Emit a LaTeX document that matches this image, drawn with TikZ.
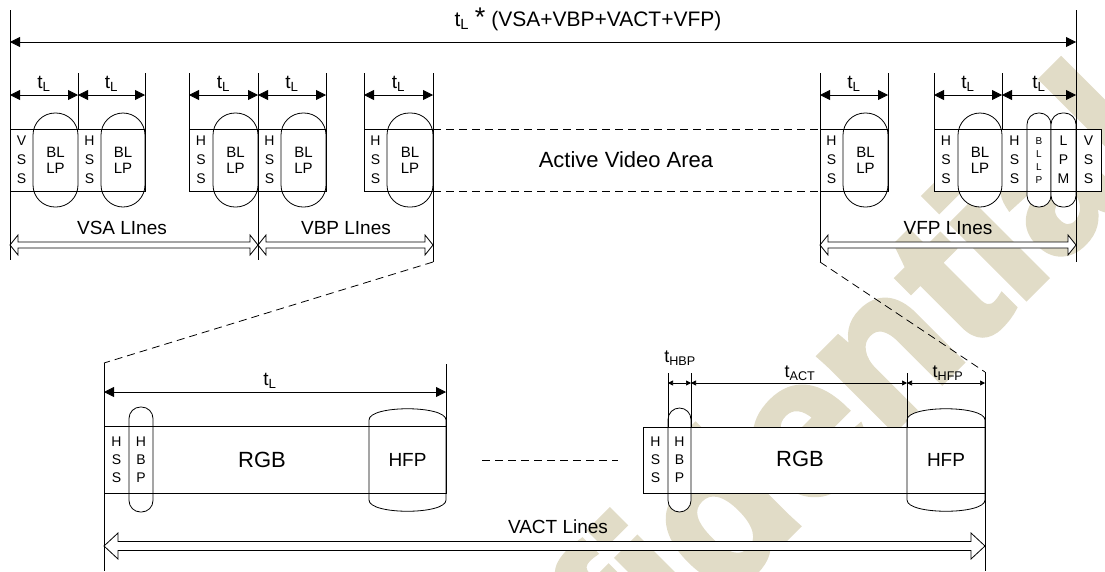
\documentclass[tikz,border=0pt]{standalone}
\usepackage{fontspec}
\setmainfont{Liberation Sans}
\newfontfamily\wmfont{Liberation Sans}[UprightFont={* Bold},FakeBold=3]
\usetikzlibrary{arrows.meta,calc}
\definecolor{wm}{RGB}{225,220,199}
\newcommand\hollowarr[5]{%
  \path[hollowarrow] let \p1=(#1), \p2=(#2) in
    (\p1) -- ({\x1+#5},{\y1+#3}) -- ({\x1+#5},{\y1+#4}) -- ({\x2-#5},{\y2+#4}) --
    ({\x2-#5},{\y2+#3}) -- (\p2) -- ({\x2-#5},{\y2-#3}) -- ({\x2-#5},{\y2-#4}) --
    ({\x1+#5},{\y1-#4}) -- ({\x1+#5},{\y1-#3}) -- cycle;}
\newcommand\hfpshape[2]{%
  \draw[ovalshape] (#1,500) -- (#1,420) .. controls (#1,405) and (#2,405) .. (#2,420)
    -- (#2,500) .. controls (#2,515) and (#1,515) .. (#1,500) -- cycle;}
\begin{document}
\begin{tikzpicture}[x=1pt,y=-1pt,line width=0.8pt,
  dim/.style={{Triangle[length=10pt,width=10pt]}-{Triangle[length=10pt,width=10pt]},line width=0.8pt},
  sdim/.style={{Triangle[length=5pt,width=5pt]}-{Triangle[length=5pt,width=5pt]},line width=0.7pt},
  ovalshape/.style={draw,fill=white},
  dashline/.style={dash pattern=on 8pt off 5pt},
  hollowarrow/.style={draw,fill=white,line width=0.8pt,line join=miter},
  lab/.style={inner sep=0pt,font=\fontsize{19}{19}\selectfont},
  stack/.style={inner sep=0pt,align=center,font=\fontsize{14}{19}\selectfont},
  bl/.style={inner sep=0pt,align=center,font=\fontsize{15}{16}\selectfont}]
\useasboundingbox (0,0) rectangle (1105,571);

% watermark
\node[rotate=45,anchor=base,text=wm,inner sep=0pt,
  font=\wmfont\fontsize{198}{198}\selectfont] (wmark) at (768,556) {Confidential};

% white fills of the rows
\fill[white] (10,129) rectangle (145,191);
\fill[white] (189,129) rectangle (326,191);
\fill[white] (364,129) rectangle (433,191);
\fill[white] (820,129) rectangle (888,191);
\fill[white] (934,129) rectangle (1101,191);
\fill[white] (104,426) rectangle (446,493);
\fill[white] (643,427) rectangle (985,493);

% hollow arrows
\coordinate (vsaL) at (10,245);  \coordinate (vsaR) at (258,245);
\coordinate (vbpR) at (433,245);
\coordinate (vfpL) at (820,245); \coordinate (vfpR) at (1076,245);
\coordinate (vactL) at (104,546); \coordinate (vactR) at (985,546);
\hollowarr{vsaL}{vsaR}{10pt}{3pt}{8pt}
\hollowarr{vsaR}{vbpR}{10pt}{3pt}{8pt}
\hollowarr{vfpL}{vfpR}{10pt}{3pt}{8pt}
\hollowarr{vactL}{vactR}{13pt}{4.5pt}{14pt}

% ovals (top)
\foreach \a/\b in {33/78,101/145,213/258,281/326,387/433,843/888,958/1002}
  \draw[ovalshape,rounded corners=22pt] (\a,113) rectangle (\b,207);
\foreach \a/\b in {1027/1051,1051/1076}
  \draw[ovalshape,rounded corners=11.5pt] (\a,113) rectangle (\b,207);
% ovals (bottom)
\draw[ovalshape,rounded corners=11.5pt] (129,407) rectangle (153,512);
\draw[ovalshape,rounded corners=11.5pt] (668,408) rectangle (691,512);
\hfpshape{369}{446}
\hfpshape{907}{985}

% row outlines
\draw (10,129) rectangle (145,191);
\draw (189,129) rectangle (326,191);
\draw (364,129) rectangle (433,191);
\draw (820,129) rectangle (888,191);
\draw (934,129) rectangle (1101,191);
\draw (104,426) rectangle (446,493);
\draw (643,427) rectangle (985,493);

% long vertical lines
\coordinate (l0t) at (10,10);    \coordinate (l0b) at (10,260);
\coordinate (r0t) at (1076,10);  \coordinate (r0b) at (1076,262);
\coordinate (m1t) at (258,73);   \coordinate (m1b) at (258,260);
\coordinate (m2t) at (433,73);   \coordinate (m2b) at (433,262);
\coordinate (m3t) at (820,73);   \coordinate (m3b) at (820,262);
\draw (l0t) -- (l0b);
\draw (r0t) -- (r0b);
\draw (m1t) -- (m1b);
\draw (m2t) -- (m2b);
\draw (m3t) -- (m3b);
% short ticks (top)
\foreach \x in {78,145,189,326,364,888,934,1002}{
  \coordinate (tk\x a) at (\x,73); \coordinate (tk\x b) at (\x,129);
  \draw (tk\x a) -- (tk\x b);}

% overall arrow and title
\coordinate (topL) at (10,42); \coordinate (topR) at (1076,42);
\draw[dim] (topL) -- (topR);
\node[inner sep=0pt,font=\fontsize{21}{21}\selectfont] (title) at (588,19)
  {t\textsubscript{L} {\fontsize{27}{27}\selectfont *} (VSA+VBP+VACT+VFP)};

% t_L dimensions (top)
\foreach \i/\a/\b in {1/10/78,2/78/145,3/189/258,4/258/326,5/364/433,6/820/888,7/934/1002,8/1002/1076}{
  \coordinate (da\i) at (\a,95); \coordinate (db\i) at (\b,95);
  \draw[dim] (da\i) -- (db\i);
  \node[lab] (tl\i) at ({(\a+\b)/2},84) {t\textsubscript{L}};}

% cell texts (top)
\node[stack] (c1) at (21.5,160) {V\\S\\S};
\node[bl] (c2) at (55.5,160) {BL\\LP};
\node[stack] (c3) at (89.5,160) {H\\S\\S};
\node[bl] (c4) at (123,160) {BL\\LP};
\node[stack] (c5) at (201,160) {H\\S\\S};
\node[bl] (c6) at (235.5,160) {BL\\LP};
\node[stack] (c7) at (269.5,160) {H\\S\\S};
\node[bl] (c8) at (303.5,160) {BL\\LP};
\node[stack] (c9) at (375.5,160) {H\\S\\S};
\node[bl] (c10) at (410,160) {BL\\LP};
\node[stack] (c11) at (831.5,160) {H\\S\\S};
\node[bl] (c12) at (865.5,160) {BL\\LP};
\node[stack] (c13) at (946,160) {H\\S\\S};
\node[bl] (c14) at (980,160) {BL\\LP};
\node[stack] (c15) at (1014.5,160) {H\\S\\S};
\node[inner sep=0pt,align=center,font=\fontsize{10}{13}\selectfont] (c16) at (1039,161) {B\\L\\L\\P};
\node[stack] (c17) at (1063.5,160) {L\\P\\M};
\node[stack] (c18) at (1088.5,160) {V\\S\\S};

% active video area
\coordinate (av1) at (433,129); \coordinate (av2) at (820,129);
\coordinate (av3) at (433,191); \coordinate (av4) at (820,191);
\draw[dashline] (av1) -- (av2);
\draw[dashline] (av3) -- (av4);
\node[inner sep=0pt,font=\fontsize{22}{22}\selectfont] (ava) at (626,160) {Active Video Area};

% line-count labels
\node[lab] (vsa) at (122,228) {VSA LInes};
\node[lab] (vbp) at (346,228) {VBP LInes};
\node[lab] (vfp) at (948,228) {VFP LInes};
\node[lab] (vact) at (558,527) {VACT Lines};

% zoom dashed lines
\coordinate (bl0t) at (104,363); \coordinate (bl0b) at (104,571);
\coordinate (br0t) at (985,372); \coordinate (br0b) at (985,571);
\draw[dashline] (m2b) -- (bl0t);
\draw[dashline] (m3b) -- (br0t);
\draw (bl0t) -- (bl0b);
\draw (br0t) -- (br0b);

% bottom left line
\coordinate (bt1) at (446,364); \coordinate (bt2) at (446,426);
\draw (bt1) -- (bt2);
\coordinate (bda) at (104,392); \coordinate (bdb) at (446,392);
\draw[dim] (bda) -- (bdb);
\node[lab] (btl) at (270,381) {t\textsubscript{L}};
\node[stack,font=\fontsize{14}{18}\selectfont] (b1) at (116.5,460) {H\\S\\S};
\node[stack,font=\fontsize{14}{18}\selectfont] (b2) at (141,460) {H\\B\\P};
\node[inner sep=0pt,font=\fontsize{22}{22}\selectfont] (b3) at (262,460) {RGB};
\node[lab] (b4) at (407.5,460) {HFP};

% middle dashed
\coordinate (md1) at (482,460); \coordinate (md2) at (618,460);
\draw[dashline] (md1) -- (md2);

% bottom right line
\foreach \x in {668,691,907}{
  \coordinate (bk\x a) at (\x,373); \coordinate (bk\x b) at (\x,427);
  \draw (bk\x a) -- (bk\x b);}
\coordinate (sd1) at (668,383); \coordinate (sd2) at (691,383);
\coordinate (sd3) at (907,383); \coordinate (sd4) at (985,383);
\draw[sdim] (sd1) -- (sd2);
\draw[sdim] (sd2) -- (sd3);
\draw[sdim] (sd3) -- (sd4);
\node[inner sep=0pt,font=\fontsize{18}{18}\selectfont] (thbp) at (680,358) {t\textsubscript{HBP}};
\node[inner sep=0pt,font=\fontsize{18}{18}\selectfont] (tact) at (800,373) {t\textsubscript{ACT}};
\node[inner sep=0pt,font=\fontsize{18}{18}\selectfont] (thfp) at (948,373) {t\textsubscript{HFP}};
\node[stack,font=\fontsize{14}{18}\selectfont] (r1) at (655.5,460) {H\\S\\S};
\node[stack,font=\fontsize{14}{18}\selectfont] (r2) at (679.5,460) {H\\B\\P};
\node[inner sep=0pt,font=\fontsize{22}{22}\selectfont] (r3) at (800,459) {RGB};
\node[lab] (r4) at (946,460) {HFP};
\end{tikzpicture}
\end{document}
